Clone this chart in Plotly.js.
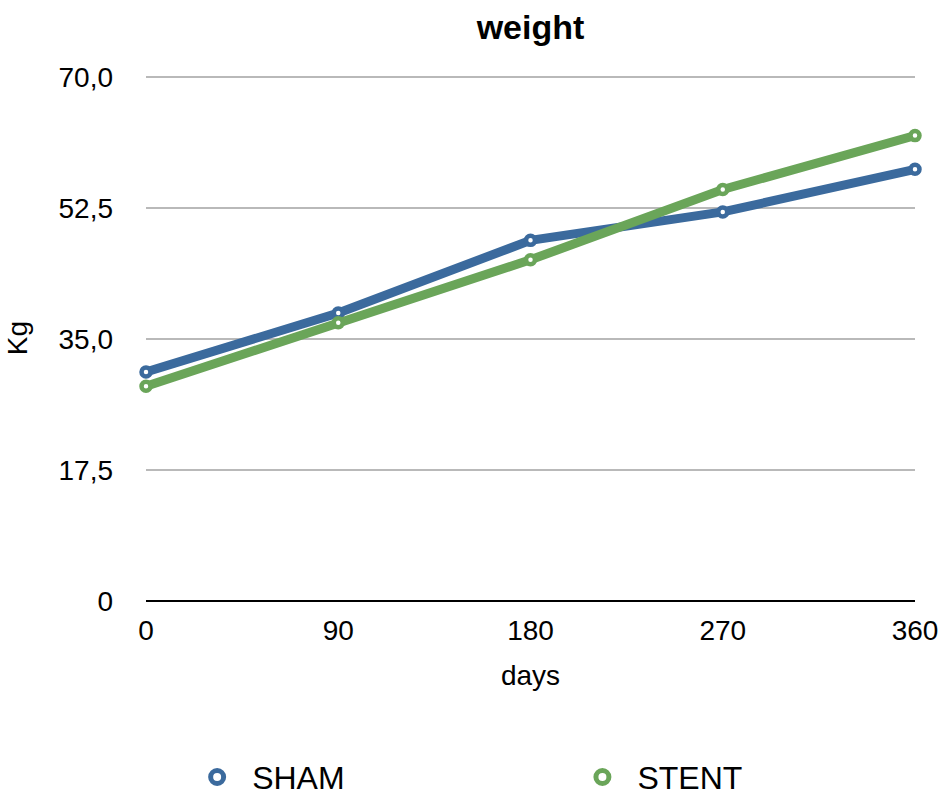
<!DOCTYPE html>
<html>
<head>
<meta charset="utf-8">
<script src="https://cdn.plot.ly/plotly-3.0.1.min.js"></script>
<style>html,body{margin:0;padding:0;background:#fff;}#chart{width:940px;height:796px;}</style>
</head>
<body>
<div id="chart"></div>
<script>
const days = [0, 90, 180, 270, 360];
const sham = [30.6, 38.5, 48.2, 52.0, 57.7];
const stent = [28.7, 37.2, 45.6, 55.0, 62.2];
const yTickVals = [0, 17.5, 35, 52.5, 70];
const yTickText = ['0', '17,5', '35,0', '52,5', '70,0'];
const xTickVals = [0, 90, 180, 270, 360];

const blue = '#3b6a9d';
const green = '#6aa559';
const font = 'Liberation Sans, Arial, Helvetica, sans-serif';

function lineTrace(name, y, color) {
  return {
    x: days, y: y, name: name, type: 'scatter', mode: 'lines+markers',
    line: {color: color, width: 9},
    marker: {symbol: 'circle', size: 9, color: '#ffffff', line: {color: color, width: 4.5}},
    showlegend: false, cliponaxis: false
  };
}
function legendTrace(name, color, legendId) {
  return {
    x: [null], y: [null], name: name, type: 'scatter', mode: 'markers',
    marker: {symbol: 'circle', size: 13, color: '#ffffff', line: {color: color, width: 6}},
    showlegend: true, legend: legendId
  };
}

const data = [
  lineTrace('SHAM', sham, blue),
  lineTrace('STENT', stent, green),
  legendTrace('SHAM', blue, 'legend'),
  legendTrace('STENT', green, 'legend2')
];

const legendBase = {
  orientation: 'h', xanchor: 'left', y: -0.335, yanchor: 'middle',
  font: {size: 32}, itemwidth: 60, bgcolor: 'rgba(0,0,0,0)'
};

const layout = {
  width: 940, height: 796,
  margin: {l: 146, r: 25, t: 75, b: 195, autoexpand: false},
  paper_bgcolor: '#ffffff', plot_bgcolor: '#ffffff',
  font: {family: font, color: '#000000', size: 28},
  title: {text: 'weight', font: {family: font, size: 34, weight: 'bold', color: '#000'}, x: 0.5, xref: 'paper', y: 0.966, yanchor: 'middle'},
  xaxis: {
    range: [0, 360], tickvals: xTickVals, ticktext: xTickVals.map(String),
    showgrid: false, zeroline: false, showline: false, ticks: '',
    ticklabelstandoff: 10, automargin: false,
    tickfont: {size: 28},
    title: {text: 'days', font: {size: 28}, standoff: 20}
  },
  yaxis: {
    range: [0, 70.3], tickvals: yTickVals, ticktext: yTickText,
    showgrid: true, gridcolor: '#b9b9b9', gridwidth: 2,
    zeroline: true, zerolinecolor: '#000000', zerolinewidth: 2,
    showline: false, ticks: '', automargin: false,
    ticklabelstandoff: 32,
    tickfont: {size: 28},
    title: {text: 'Kg', font: {size: 28}, standoff: 22}
  },
  legend: Object.assign({}, legendBase, {x: 0.047}),
  legend2: Object.assign({}, legendBase, {x: 0.548}),
  showlegend: true
};

Plotly.newPlot('chart', data, layout, {displayModeBar: false, staticPlot: true});
</script>
</body>
</html>
